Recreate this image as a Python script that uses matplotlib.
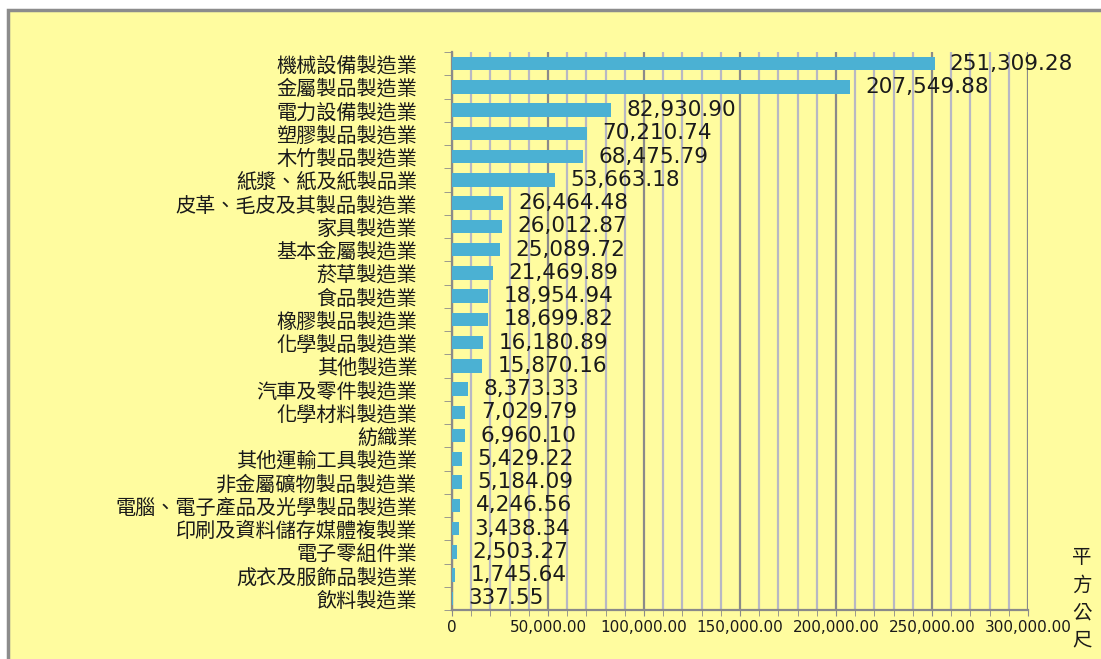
import matplotlib.pyplot as plt
from matplotlib.patches import Rectangle
from matplotlib.ticker import MultipleLocator, FuncFormatter

''' Data '''
industries = ['機械設備製造業', '金屬製品製造業', '電力設備製造業', '塑膠製品製造業',
              '木竹製品製造業', '紙漿、紙及紙製品業', '皮革、毛皮及其製品製造業', '家具製造業',
              '基本金屬製造業', '菸草製造業', '食品製造業', '橡膠製品製造業',
              '化學製品製造業', '其他製造業', '汽車及零件製造業', '化學材料製造業',
              '紡織業', '其他運輸工具製造業', '非金屬礦物製品製造業',
              '電腦、電子產品及光學製品製造業', '印刷及資料儲存媒體複製業', '電子零組件業',
              '成衣及服飾品製造業', '飲料製造業']
area = [251309.28, 207549.88, 82930.90, 70210.74, 68475.79, 53663.18, 26464.48,
        26012.87, 25089.72, 21469.89, 18954.94, 18699.82, 16180.89, 15870.16,
        8373.33, 7029.79, 6960.10, 5429.22, 5184.09, 4246.56, 3438.34, 2503.27,
        1745.64, 337.55]
unit_label = '平\n方\n公\n尺'

''' Plotting '''
cjk = ['Noto Sans CJK TC', 'DejaVu Sans']
bg = '#FFFC9F'

fig = plt.figure(figsize=(11.01, 6.59), dpi=100, facecolor='white')
frame = Rectangle((8/1101, -0.05), 1.1, 649/659 + 0.05, transform=fig.transFigure,
                  facecolor=bg, edgecolor='#8C8C8C', linewidth=2.5, zorder=-10)
fig.patches.append(frame)

ax = fig.add_axes([452/1101, 49/659, 576/1101, 558/659])
ax.set_zorder(5)
ax.patch.set_alpha(0)

pos = list(range(len(industries)))
bars = ax.barh(pos, area, height=0.58, color='#4BB1D3', zorder=3)
ax.set_ylim(len(industries) - 0.5, -0.5)
ax.set_xlim(0, 300000)

for y, v in zip(pos, area):
    ax.text(v + 8000, y, '{:,.2f}'.format(v), va='center', ha='left',
            fontsize=15.5, color='#1A1A1A', zorder=4, clip_on=False)

ax.xaxis.set_major_locator(MultipleLocator(50000))
ax.xaxis.set_minor_locator(MultipleLocator(10000))
ax.xaxis.set_major_formatter(FuncFormatter(lambda x, p: '0' if x == 0 else '{:,.2f}'.format(x)))
ax.grid(which='major', axis='x', color='#8A8A8A', linewidth=1.6, zorder=1)
ax.grid(which='minor', axis='x', color='#B8B8C4', linewidth=1.6, zorder=1)
ax.tick_params(axis='x', which='both', direction='out', length=4, color='#8A8A8A',
               labelsize=11, labelcolor='#1A1A1A')

ax.set_yticks(pos)
ax.set_yticklabels(industries, fontfamily=cjk, fontsize=14.5, color='#1A1A1A')
ax.set_yticks([p + 0.5 for p in [-1] + pos], minor=True)
ax.tick_params(axis='y', which='major', length=0, pad=25)
ax.tick_params(axis='y', which='minor', direction='out', length=6, color='#8A8A8A')

for s in ['top', 'right']:
    ax.spines[s].set_visible(False)
for s in ['left', 'bottom']:
    ax.spines[s].set_color('#8A8A8A')
    ax.spines[s].set_linewidth(1.6)

fig.text(1082/1101, 1 - 599/659, unit_label, fontfamily=cjk, fontsize=14,
         ha='center', va='center', linespacing=1.4, color='#1A1A1A')

plt.savefig('out.png', dpi=100, facecolor='white')
